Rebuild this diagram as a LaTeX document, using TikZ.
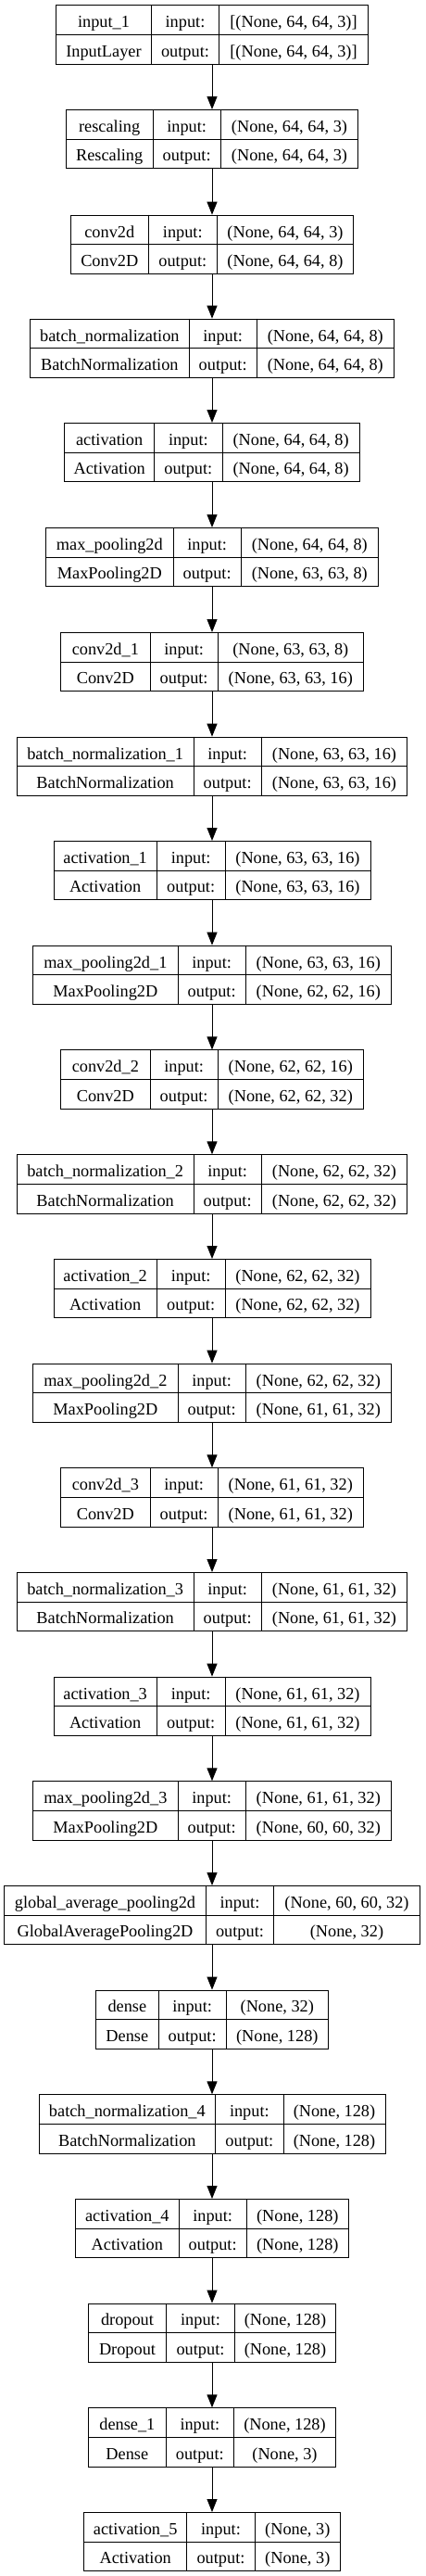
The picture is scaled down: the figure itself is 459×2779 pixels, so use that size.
\documentclass[tikz,border=0pt]{standalone}
\usepackage{fontspec}
\setmainfont{Liberation Serif}
\usetikzlibrary{arrows.meta}

\tikzset{
  layerbox/.style={draw, line width=1pt, inner sep=0pt, minimum height=63.3pt, anchor=north},
  cellline/.style={line width=1pt},
  celltext/.style={anchor=base, inner sep=0pt, font=\fontsize{18.3}{22}\selectfont},
  flow/.style={line width=1pt, -{Triangle[length=14pt,width=11pt]}}
}

\begin{document}
\begin{tikzpicture}[x=1pt, y=-1pt]
  % Размер рисунка
  \useasboundingbox (0,0) rectangle (459,2779);

  % Блок слоя: имя, верх, левый край, разделители, тексты
  \def\layer#1#2#3#4#5#6#7#8#9{%
    \node[layerbox, minimum width={(458-2*#3)*1pt}] (#1) at (229,#2) {};
    \draw[cellline] (#1.west) -- (#1.east);
    \draw[cellline] (#4,#2) -- (#4,{#2+63.3});
    \draw[cellline] (#5,#2) -- (#5,{#2+63.3});
    \node[celltext] (#1-name) at ({(#3+#4)/2},{#2+24.3}) {#6};
    \node[celltext] (#1-class) at ({(#3+#4)/2},{#2+55.8}) {#7};
    \node[celltext] (#1-inlbl) at ({(#4+#5)/2},{#2+24.3}) {input:};
    \node[celltext] (#1-outlbl) at ({(#4+#5)/2},{#2+55.8}) {output:};
    \node[celltext] (#1-in) at ({(#5+458-#3)/2},{#2+24.3}) {#8};
    \node[celltext] (#1-out) at ({(#5+458-#3)/2},{#2+55.8}) {#9};
  }

  % Слои сети
  \layer{input1}{5.3}{60.7}{163.3}{236.7}{input\_1}{InputLayer}{[(None, 64, 64, 3)]}{[(None, 64, 64, 3)]}
  \layer{rescaling}{118}{71.3}{165}{238.3}{rescaling}{Rescaling}{(None, 64, 64, 3)}{(None, 64, 64, 3)}
  \layer{conv0}{231.7}{76.3}{160.3}{234.3}{conv2d}{Conv2D}{(None, 64, 64, 3)}{(None, 64, 64, 8)}
  \layer{bn0}{343.7}{32.7}{204}{277.3}{batch\_normalization}{BatchNormalization}{(None, 64, 64, 8)}{(None, 64, 64, 8)}
  \layer{act0}{456}{69.7}{166.7}{240}{activation}{Activation}{(None, 64, 64, 8)}{(None, 64, 64, 8)}
  \layer{pool0}{569}{49.7}{187}{260.3}{max\_pooling2d}{MaxPooling2D}{(None, 64, 64, 8)}{(None, 63, 63, 8)}
  \layer{conv1}{682}{65.7}{162}{235.3}{conv2d\_1}{Conv2D}{(None, 63, 63, 8)}{(None, 63, 63, 16)}
  \layer{bn1}{794.7}{18.3}{209}{282.3}{batch\_normalization\_1}{BatchNormalization}{(None, 63, 63, 16)}{(None, 63, 63, 16)}
  \layer{act1}{907}{58}{169.3}{243}{activation\_1}{Activation}{(None, 63, 63, 16)}{(None, 63, 63, 16)}
  \layer{pool1}{1019.7}{35.7}{192}{265.3}{max\_pooling2d\_1}{MaxPooling2D}{(None, 63, 63, 16)}{(None, 62, 62, 16)}
  \layer{conv2}{1132.4}{65.7}{162}{235.3}{conv2d\_2}{Conv2D}{(None, 62, 62, 16)}{(None, 62, 62, 32)}
  \layer{bn2}{1245.3}{18.3}{209}{282.3}{batch\_normalization\_2}{BatchNormalization}{(None, 62, 62, 32)}{(None, 62, 62, 32)}
  \layer{act2}{1358}{58}{169.3}{243}{activation\_2}{Activation}{(None, 62, 62, 32)}{(None, 62, 62, 32)}
  \layer{pool2}{1470.7}{35.7}{192}{265.3}{max\_pooling2d\_2}{MaxPooling2D}{(None, 62, 62, 32)}{(None, 61, 61, 32)}
  \layer{conv3}{1583.3}{65.7}{162}{235.3}{conv2d\_3}{Conv2D}{(None, 61, 61, 32)}{(None, 61, 61, 32)}
  \layer{bn3}{1696}{18.3}{209}{282.3}{batch\_normalization\_3}{BatchNormalization}{(None, 61, 61, 32)}{(None, 61, 61, 32)}
  \layer{act3}{1808.7}{58}{169.3}{243}{activation\_3}{Activation}{(None, 61, 61, 32)}{(None, 61, 61, 32)}
  \layer{pool3}{1921.3}{35.7}{192}{265.3}{max\_pooling2d\_3}{MaxPooling2D}{(None, 61, 61, 32)}{(None, 60, 60, 32)}
  \layer{gap}{2034}{4.7}{222.3}{295.7}{global\_average\_pooling2d}{GlobalAveragePooling2D}{(None, 60, 60, 32)}{(None, 32)}
  \layer{dense0}{2146.6}{103.7}{171}{244.3}{dense}{Dense}{(None, 32)}{(None, 128)}
  \layer{bn4}{2259.3}{42}{232.7}{306}{batch\_normalization\_4}{BatchNormalization}{(None, 128)}{(None, 128)}
  \layer{act4}{2372}{81.7}{193}{266.3}{activation\_4}{Activation}{(None, 128)}{(None, 128)}
  \layer{drop}{2484.6}{95.3}{179.7}{253.3}{dropout}{Dropout}{(None, 128)}{(None, 128)}
  \layer{dense1}{2597.3}{95.7}{179}{252.7}{dense\_1}{Dense}{(None, 128)}{(None, 3)}
  \layer{act5}{2710}{90.7}{201.7}{275.3}{activation\_5}{Activation}{(None, 3)}{(None, 3)}

  % Стрелки между слоями
  \draw[flow] (input1.south) -- (rescaling.north);
  \draw[flow] (rescaling.south) -- (conv0.north);
  \draw[flow] (conv0.south) -- (bn0.north);
  \draw[flow] (bn0.south) -- (act0.north);
  \draw[flow] (act0.south) -- (pool0.north);
  \draw[flow] (pool0.south) -- (conv1.north);
  \draw[flow] (conv1.south) -- (bn1.north);
  \draw[flow] (bn1.south) -- (act1.north);
  \draw[flow] (act1.south) -- (pool1.north);
  \draw[flow] (pool1.south) -- (conv2.north);
  \draw[flow] (conv2.south) -- (bn2.north);
  \draw[flow] (bn2.south) -- (act2.north);
  \draw[flow] (act2.south) -- (pool2.north);
  \draw[flow] (pool2.south) -- (conv3.north);
  \draw[flow] (conv3.south) -- (bn3.north);
  \draw[flow] (bn3.south) -- (act3.north);
  \draw[flow] (act3.south) -- (pool3.north);
  \draw[flow] (pool3.south) -- (gap.north);
  \draw[flow] (gap.south) -- (dense0.north);
  \draw[flow] (dense0.south) -- (bn4.north);
  \draw[flow] (bn4.south) -- (act4.north);
  \draw[flow] (act4.south) -- (drop.north);
  \draw[flow] (drop.south) -- (dense1.north);
  \draw[flow] (dense1.south) -- (act5.north);
\end{tikzpicture}
\end{document}
